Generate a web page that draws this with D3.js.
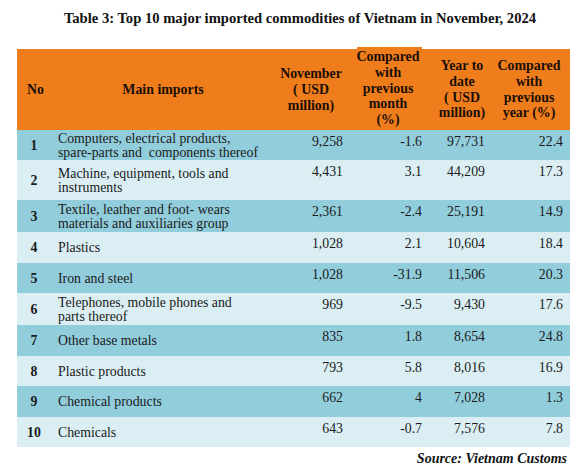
<!DOCTYPE html>
<html>
<head>
<meta charset="utf-8">
<script src="https://cdn.jsdelivr.net/npm/d3@7/dist/d3.min.js"></script>
<style>
  html, body { margin: 0; padding: 0; background: #ffffff; }
  svg { display: block; }
</style>
</head>
<body>
<script>
// ---------------- DATA ----------------
const title = "Table 3: Top 10 major imported commodities of Vietnam in November, 2024";
const source = "Source: Vietnam Customs";
const headers = [
  ["No"],
  ["Main imports"],
  ["November", "( USD", "million)"],
  ["Compared", "with", "previous", "month", "(%)"],
  ["Year to", "date", "( USD", "million)"],
  ["Compared", "with", "previous", "year (%)"]
];
const nos = [1, 2, 3, 4, 5, 6, 7, 8, 9, 10];
const imports = [
  ["Computers, electrical products,", "spare-parts and  components thereof"],
  ["Machine, equipment, tools and", "instruments"],
  ["Textile, leather and foot- wears", "materials and auxiliaries group"],
  ["Plastics"],
  ["Iron and steel"],
  ["Telephones, mobile phones and", "parts thereof"],
  ["Other base metals"],
  ["Plastic products"],
  ["Chemical products"],
  ["Chemicals"]
];
const november = [9258, 4431, 2361, 1028, 1028, 969, 835, 793, 662, 643];
const momChange = [-1.6, 3.1, -2.4, 2.1, -31.9, -9.5, 1.8, 5.8, 4, -0.7];
const ytd = [97731, 44209, 25191, 10604, 11506, 9430, 8654, 8016, 7028, 7576];
const yoyChange = [22.4, 17.3, 14.9, 18.4, 20.3, 17.6, 24.8, 16.9, 1.3, 7.8];

// ---------------- LAYOUT ----------------
const W = 584, H = 471;
const tableLeft = 17, tableRight = 570;
const headTop = 49, headBottom = 130;
const rowHeights = [30, 40, 32, 31, 30, 32, 31, 30, 31, 30];
const colors = {
  head: "#EF7D1C",
  dark: "#92CDDC",
  light: "#DAEEF3",
  text: "#1b1b1b"
};
const serif = "'Liberation Serif', 'Times New Roman', serif";

const svg = d3.select("body").append("svg")
  .attr("width", W).attr("height", H);

// Title
svg.append("text")
  .attr("x", 300).attr("y", 23)
  .attr("text-anchor", "middle")
  .attr("font-family", serif).attr("font-weight", "bold")
  .attr("font-size", 14.6).attr("fill", "#111")
  .text(title);

// Header background
svg.append("rect")
  .attr("x", tableLeft).attr("y", headTop)
  .attr("width", tableRight - tableLeft).attr("height", headBottom - headTop)
  .attr("fill", colors.head);
svg.append("rect")
  .attr("x", 357).attr("y", 47)
  .attr("width", 65).attr("height", 4)
  .attr("fill", colors.head);

const headPos = [
  {x: 27, y: 94, anchor: "start"},
  {x: 163, y: 94, anchor: "middle"},
  {x: 311, y: 78, anchor: "middle"},
  {x: 388, y: 61, anchor: "middle"},
  {x: 462, y: 70, anchor: "middle"},
  {x: 529, y: 70, anchor: "middle"}
];
const lineStep = 15.8;
headers.forEach((lines, i) => {
  const t = svg.append("text")
    .attr("font-family", serif).attr("font-weight", "bold")
    .attr("font-size", 13.9).attr("fill", "#1a0f08")
    .attr("text-anchor", headPos[i].anchor);
  lines.forEach((ln, j) => {
    t.append("tspan").attr("x", headPos[i].x)
      .attr("y", headPos[i].y + j * lineStep).text(ln);
  });
});

// Row positions from cumulative heights
const rowTops = [];
rowHeights.reduce((acc, h) => { rowTops.push(acc); return acc + h; }, headBottom);
const rowIdx = d3.range(nos.length);

const rows = svg.selectAll("g.row").data(rowIdx).enter().append("g")
  .attr("class", "row")
  .attr("transform", i => `translate(0,${rowTops[i]})`);

rows.append("rect")
  .attr("x", tableLeft).attr("y", 0)
  .attr("width", tableRight - tableLeft)
  .attr("height", i => rowHeights[i])
  .attr("fill", i => i % 2 === 0 ? colors.dark : colors.light);

const fs = 13.8;
rows.append("text")
  .attr("x", 34).attr("y", i => rowHeights[i] / 2 + 4.8)
  .attr("text-anchor", "middle")
  .attr("font-family", serif).attr("font-weight", "bold")
  .attr("font-size", fs).attr("fill", colors.text)
  .text(i => nos[i]);

rows.each(function(i) {
  const lines = imports[i];
  const g = d3.select(this);
  const lh = 14.5;
  const total = (lines.length - 1) * lh;
  const startY = rowHeights[i] / 2 - total / 2 + 4.8;
  const t = g.append("text")
    .attr("font-family", serif).attr("font-size", fs).attr("fill", colors.text);
  lines.forEach((ln, j) => {
    t.append("tspan").attr("x", 58).attr("y", startY + j * lh)
      .style("white-space", "pre").text(ln);
  });
});

const fmtInt = d3.format(",");
const numCols = [
  {vals: november, x: 343, f: fmtInt},
  {vals: momChange, x: 422, f: v => String(v)},
  {vals: ytd, x: 485, f: fmtInt},
  {vals: yoyChange, x: 563, f: v => v.toFixed(1)}
];
numCols.forEach(c => {
  rows.append("text")
    .attr("x", c.x).attr("y", 15.8)
    .attr("text-anchor", "end")
    .attr("font-family", serif).attr("font-size", fs).attr("fill", colors.text)
    .text(i => c.f(c.vals[i]));
});

// Source
svg.append("text")
  .attr("x", 567).attr("y", 463)
  .attr("text-anchor", "end")
  .attr("font-family", serif).attr("font-weight", "bold").attr("font-style", "italic")
  .attr("font-size", 14).attr("fill", "#111")
  .text(source);
</script>
</body>
</html>
